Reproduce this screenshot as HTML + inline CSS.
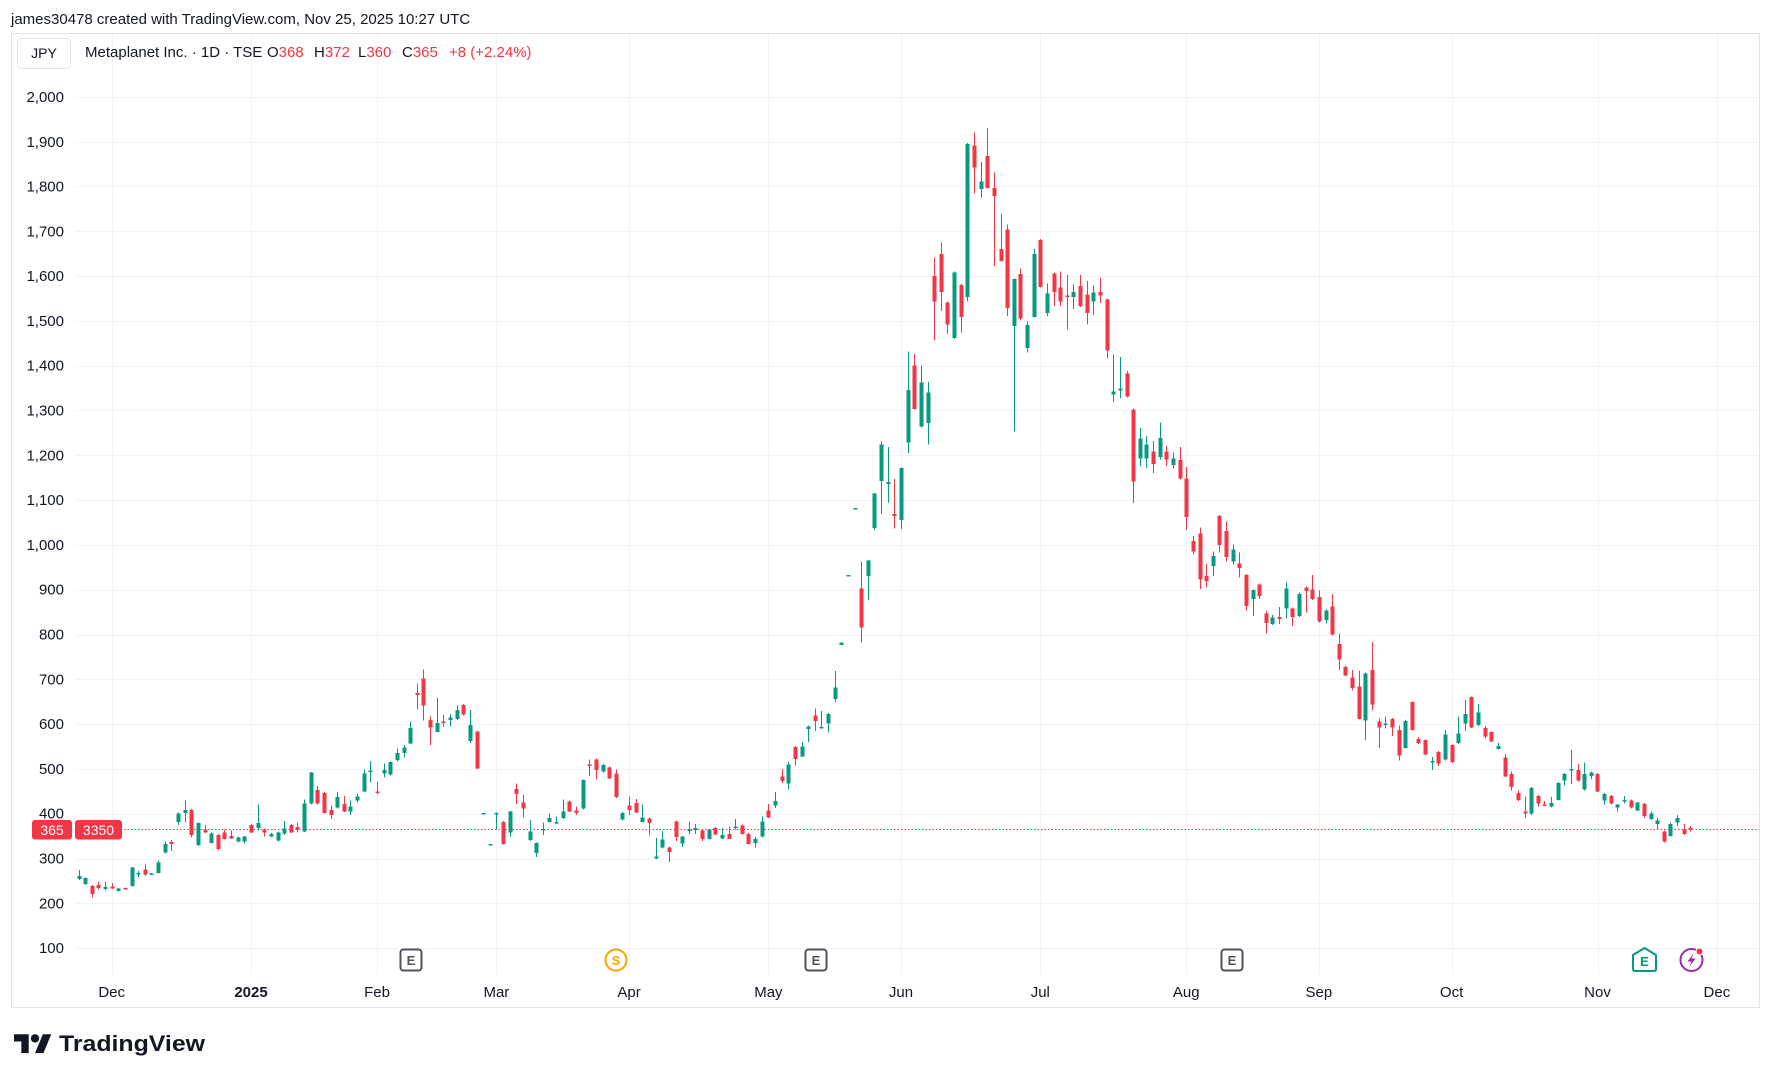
<!DOCTYPE html>
<html>
<head>
<meta charset="utf-8">
<style>
  html,body{margin:0;padding:0;background:#ffffff;}
  body{width:1772px;height:1080px;position:relative;overflow:hidden;font-family:"Liberation Sans",Arial,sans-serif;}
  svg text{font-family:"Liberation Sans",Arial,sans-serif;}
</style>
</head>
<body>
<svg id="chart" width="1772" height="1080" viewBox="0 0 1772 1080" xmlns="http://www.w3.org/2000/svg" style="position:absolute;left:0;top:0">
  <rect x="0" y="0" width="1772" height="1080" fill="#ffffff"/>
  <!-- header -->
  <text x="11" y="24" font-size="15" fill="#131722">james30478 created with TradingView.com, Nov 25, 2025 10:27 UTC</text>
  <!-- frame -->
  <rect x="11.5" y="33.5" width="1748" height="974" fill="none" stroke="#e0e3eb" stroke-width="1"/>
  <g id="grid"></g>
  <!-- legend -->
  <rect x="17.5" y="38.5" width="53" height="30" rx="4" ry="4" fill="#ffffff" stroke="#e0e3eb" stroke-width="1"/>
  <text x="44" y="58" font-size="14" fill="#131722" text-anchor="middle">JPY</text>
  <text x="85" y="57" font-size="15" fill="#131722">Metaplanet Inc. · 1D · TSE</text>
  <text x="267" y="57" font-size="15" fill="#131722">O<tspan fill="#f23645">368</tspan></text>
  <text x="314" y="57" font-size="15" fill="#131722">H<tspan fill="#f23645">372</tspan></text>
  <text x="358" y="57" font-size="15" fill="#131722">L<tspan fill="#f23645">360</tspan></text>
  <text x="402" y="57" font-size="15" fill="#131722">C<tspan fill="#f23645">365</tspan></text>
  <text x="449" y="57" font-size="15" fill="#f23645">+8 (+2.24%)</text>
  <!-- y axis labels -->
  <g font-size="15" fill="#131722" text-anchor="end">
    <text x="64" y="102">2,000</text>
    <text x="64" y="147">1,900</text>
    <text x="64" y="191.5">1,800</text>
    <text x="64" y="236.3">1,700</text>
    <text x="64" y="281.1">1,600</text>
    <text x="64" y="325.9">1,500</text>
    <text x="64" y="370.7">1,400</text>
    <text x="64" y="415.5">1,300</text>
    <text x="64" y="460.3">1,200</text>
    <text x="64" y="505.1">1,100</text>
    <text x="64" y="549.9">1,000</text>
    <text x="64" y="594.7">900</text>
    <text x="64" y="639.5">800</text>
    <text x="64" y="684.3">700</text>
    <text x="64" y="729.1">600</text>
    <text x="64" y="773.9">500</text>
    <text x="64" y="818.7">400</text>
    <text x="64" y="863.5">300</text>
    <text x="64" y="908.3">200</text>
    <text x="64" y="953.1">100</text>
  </g>
  <!-- x axis labels -->
  <g font-size="15" fill="#131722" text-anchor="middle">
    <text x="111.7" y="997">Dec</text>
    <text x="251" y="997" font-weight="bold">2025</text>
    <text x="377" y="997">Feb</text>
    <text x="496.4" y="997">Mar</text>
    <text x="629.1" y="997">Apr</text>
    <text x="768.4" y="997">May</text>
    <text x="901" y="997">Jun</text>
    <text x="1040.3" y="997">Jul</text>
    <text x="1186.2" y="997">Aug</text>
    <text x="1318.9" y="997">Sep</text>
    <text x="1451.6" y="997">Oct</text>
    <text x="1597.5" y="997">Nov</text>
    <text x="1716.9" y="997">Dec</text>
  </g>
  <!-- price line -->
  <line x1="75" y1="829.5" x2="1759" y2="829.5" stroke="#f23645" stroke-width="1" stroke-dasharray="1.5 2"/>
  <g id="candles" shape-rendering="crispEdges"></g>
  <!-- price label -->
  <rect x="32" y="820" width="40" height="19.5" rx="3" ry="3" fill="#f23645"/>
  <rect x="75" y="820" width="47" height="19.5" rx="3" ry="3" fill="#f23645"/>
  <text x="52" y="835" font-size="14" fill="#ffffff" text-anchor="middle">365</text>
  <text x="98.5" y="835" font-size="14" fill="#ffffff" text-anchor="middle">3350</text>
  <!-- event icons -->
  <g fill="none" stroke="#50535e" stroke-width="2">
    <rect x="400.5" y="949.5" width="21" height="21" rx="3"/>
    <rect x="805.5" y="949.5" width="21" height="21" rx="3"/>
    <rect x="1221.5" y="949.5" width="21" height="21" rx="3"/>
  </g>
  <g font-size="13" font-weight="bold" fill="#50535e" text-anchor="middle">
    <text x="411" y="965">E</text>
    <text x="816" y="965">E</text>
    <text x="1232" y="965">E</text>
  </g>
  <circle cx="616" cy="960" r="10.5" fill="#ffffff" stroke="#f7a600" stroke-width="2"/>
  <text x="616" y="965" font-size="13" font-weight="bold" fill="#f7a600" text-anchor="middle">S</text>
  <path d="M1633 955 L1644.5 948 L1656 955 L1656 969 Q1656 971 1654 971 L1635 971 Q1633 971 1633 969 Z" fill="#ffffff" stroke="#089981" stroke-width="2" stroke-linejoin="round"/>
  <text x="1644.5" y="966" font-size="13" font-weight="bold" fill="#089981" text-anchor="middle">E</text>
  <circle cx="1691.5" cy="960" r="11" fill="#ffffff" stroke="#9c27b0" stroke-width="2"/>
  <path d="M1694 953 L1687.5 961.5 L1691.5 961.5 L1689 967.5 L1695.5 958.5 L1691.5 958.5 Z" fill="#9c27b0"/>
  <circle cx="1699.5" cy="951.5" r="4" fill="#ffffff"/>
  <circle cx="1699.5" cy="951.5" r="3" fill="#f23645"/>
  <!-- footer logo -->
  <g transform="translate(14,1030) scale(1.05)" fill="#131722">
    <path d="M14 22H7V11H0V4h14v18z"/>
    <circle cx="20" cy="8" r="4"/>
    <path d="M28 22h-8l7.5-18h8L28 22z"/>
  </g>
  <text x="59" y="1051" font-size="22" font-weight="bold" fill="#131722" textLength="146" lengthAdjust="spacingAndGlyphs">TradingView</text>
</svg>
<script>
(function(){
  var NS="http://www.w3.org/2000/svg";
  function Y(p){return 679.3+(700-p)*0.448;}
  var grid=document.getElementById("grid");
  function el(tag,attrs,parent){var e=document.createElementNS(NS,tag);for(var k in attrs)e.setAttribute(k,attrs[k]);parent.appendChild(e);return e;}
  for(var p=100;p<=2000;p+=100){
    var y=Math.round(Y(p))+0.5;
    el("line",{x1:75,y1:y,x2:1759,y2:y,stroke:"#f0f3fa","stroke-width":1},grid);
  }
  var mx=[111.7,251,377,496.4,629.1,768.4,901,1040.3,1186.2,1318.9,1451.6,1597.5,1716.9];
  for(var i=0;i<mx.length;i++){
    var x=Math.round(mx[i])+0.5;
    el("line",{x1:x,y1:34,x2:x,y2:975,stroke:"#f0f3fa","stroke-width":1},grid);
  }
  var D=[
[254,274,252,261],[243,258,241,256],[239,241,213,221],[241,248,231,234],[232,248,229,236],
[237,245,232,233],[227,234,226,233],[234,235,231,232],[239,281,237,280],[264,272,257,268],
[275,287,261,264],[265,268,263,266],[268,296,267,291],[313,338,311,332],[337,341,317,332],
[382,403,375,401],[401,429,380,408],[408,410,347,352],[330,380,328,379],[365,375,357,358],
[335,358,333,356],[353,355,318,321],[358,365,342,343],[350,362,343,345],[338,349,336,347],
[338,350,333,349],[375,377,357,358],[368,420,362,379],[365,367,349,358],[349,357,348,355],
[340,360,338,358],[356,384,353,367],[375,377,357,358],[370,380,358,365],[360,432,359,423],
[423,493,421,492],[453,462,421,423],[446,448,400,402],[408,418,388,397],[414,448,412,437],
[422,440,404,405],[405,429,397,416],[429,444,425,438],[450,499,448,490],[493,518,470,496],
[450,471,443,446],[490,512,481,498],[487,516,485,515],[520,546,517,536],[535,553,525,548],
[557,606,555,591],[669,691,632,665],[702,722,608,642],[609,617,553,593],[583,658,582,603],
[606,620,593,602],[609,622,594,615],[611,641,609,632],[643,645,619,621],[562,631,558,598],
[583,585,500,501],[402,402,402,402],[332,332,332,332],[398,403,365,402],[382,384,331,333],
[358,406,349,405],[455,467,422,444],[425,442,392,412],[341,386,339,360],[312,336,303,335],
[363,380,353,366],[382,401,380,390],[380,394,377,382],[390,432,388,405],[427,429,404,405],
[407,416,397,402],[412,476,410,475],[510,521,484,507],[521,523,476,498],[494,511,492,509],
[503,505,477,479],[490,499,435,437],[387,404,385,402],[418,438,397,408],[424,433,401,403],
[381,421,380,391],[389,391,351,379],[300,346,299,304],[325,361,322,342],[324,327,292,314],
[383,385,339,348],[333,350,326,349],[361,383,355,365],[363,377,355,368],[362,364,339,344],
[344,366,342,365],[368,370,352,353],[345,368,343,353],[355,371,343,344],[368,388,365,371],
[374,376,354,355],[355,357,331,333],[335,348,325,344],[349,394,347,383],[407,422,390,392],
[418,448,413,428],[483,500,469,473],[467,515,454,510],[549,551,508,522],[528,560,526,550],
[589,597,560,595],[619,635,585,607],[592,629,591,594],[601,625,581,623],[656,718,649,682],
[777,782,777,782],[933,933,933,933],[1082,1082,1082,1082],[903,963,782,816],[931,966,877,965],
[1038,1116,1033,1115],[1143,1231,1069,1224],[1136,1218,1095,1140],[1069,1147,1036,1065],[1056,1173,1035,1172],
[1229,1432,1205,1346],[1400,1426,1302,1303],[1264,1400,1262,1363],[1272,1364,1224,1340],[1600,1641,1457,1543],
[1649,1675,1522,1564],[1541,1543,1471,1492],[1462,1610,1460,1608],[1580,1582,1474,1509],[1553,1897,1543,1895],
[1892,1920,1784,1843],[1794,1855,1776,1811],[1868,1931,1795,1797],[1797,1831,1622,1779],[1660,1739,1632,1634],
[1704,1715,1511,1529],[1489,1595,1253,1593],[1605,1617,1501,1506],[1439,1499,1429,1491],[1509,1660,1507,1649],
[1681,1683,1574,1576],[1518,1583,1511,1561],[1606,1608,1533,1564],[1575,1610,1533,1543],[1557,1602,1481,1553],
[1553,1581,1526,1565],[1578,1602,1531,1533],[1559,1589,1492,1518],[1543,1579,1513,1563],[1565,1597,1540,1557],
[1548,1550,1416,1434],[1336,1425,1319,1342],[1345,1419,1328,1349],[1383,1388,1329,1331],[1302,1304,1094,1142],
[1193,1261,1176,1238],[1193,1243,1172,1224],[1208,1232,1161,1180],[1196,1273,1191,1239],[1208,1221,1176,1191],
[1178,1206,1171,1193],[1189,1219,1146,1148],[1148,1174,1033,1062],[1009,1020,979,985],[1025,1039,901,923],
[931,957,905,919],[953,985,931,975],[1065,1067,983,1000],[1031,1052,963,973],[963,1001,956,990],
[958,983,927,948],[933,935,853,864],[879,901,841,899],[912,914,879,886],[847,853,802,826],
[824,844,821,838],[839,861,824,834],[858,916,836,903],[858,860,819,839],[841,894,839,890],
[905,907,849,897],[901,933,877,879],[884,898,827,829],[832,856,825,854],[863,890,798,800],
[779,802,721,744],[727,731,707,709],[704,721,675,681],[684,718,610,612],[608,715,564,713],
[721,783,631,644],[606,612,547,592],[599,617,590,601],[611,614,573,593],[587,597,519,530],
[547,609,546,607],[649,651,586,587],[567,571,556,558],[564,566,530,532],[515,527,497,518],
[538,540,506,512],[521,587,519,577],[553,555,513,515],[558,617,556,579],[601,654,585,622],
[660,662,591,592],[598,645,596,626],[591,596,568,572],[582,584,560,561],[544,558,543,551],
[526,533,482,483],[489,494,452,459],[446,452,428,431],[405,438,390,401],[401,460,397,457],
[440,442,416,423],[421,428,417,418],[416,437,414,424],[431,471,429,469],[474,491,463,489],
[497,542,466,500],[498,511,472,474],[454,514,452,489],[484,494,477,492],[489,491,448,449],
[429,446,420,444],[440,442,421,423],[414,422,405,420],[427,440,423,431],[429,432,412,414],
[407,426,406,425],[422,424,390,395],[388,405,386,401],[377,390,365,385],[360,362,336,338],
[350,380,349,377],[380,397,373,390],[365,377,353,355],[368,372,360,365]
  ];
  var g=document.getElementById("candles");
  for(var j=0;j<D.length;j++){
    var idx=j-5;
    var o=D[j][0],h=D[j][1],l=D[j][2],c=D[j][3];
    var col=(c>=o)?"#089981":"#f23645";
    var cx=Math.round(111.7+idx*6.633);
    var yh=Y(h),yl=Y(l);
    if(yl-yh>=1){
      el("rect",{x:cx,y:yh.toFixed(1),width:1,height:(yl-yh).toFixed(1),fill:col},g);
    }
    var yt=Y(Math.max(o,c)),yb=Y(Math.min(o,c));
    var hh=Math.max(yb-yt,1.5);
    el("rect",{x:cx-1.5,y:yt.toFixed(1),width:4,height:hh.toFixed(1),fill:col},g);
  }
})();
</script>
</body>
</html>
